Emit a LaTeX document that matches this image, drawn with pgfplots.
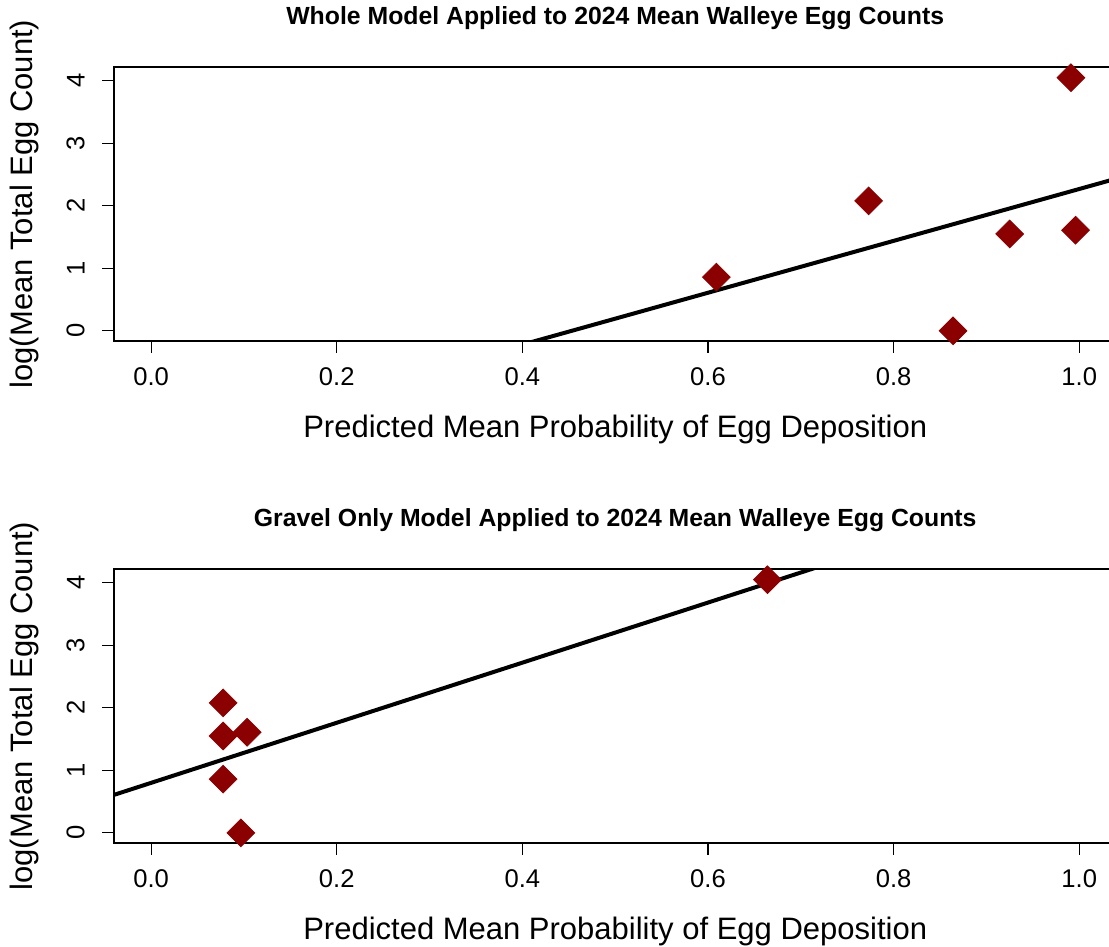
\documentclass[border=0pt]{standalone}
\usepackage{pgfplots}
\pgfplotsset{compat=1.18}
\usepackage{fontspec}
\setmainfont{Liberation Sans}
\definecolor{darkred}{HTML}{8B0000}
\pgfplotsset{
  myaxis/.style={
    scale only axis,
    width=501.2pt, height=137pt,
    xmin=-0.04, xmax=1.04,
    ymin=-0.162, ymax=4.222,
    xtick={0,0.2,0.4,0.6,0.8,1.0},
    ytick={0,1,2,3,4},
    tick align=outside,
    major tick length=6pt,
    tick style={black, line width=0.6pt},
    axis line style={black, line width=0.6pt},
    xtick pos=bottom, ytick pos=left,
    /pgf/number format/assume math mode=true,
    xticklabel={\pgfmathprintnumber[fixed, fixed zerofill, precision=1]{\tick}},
    yticklabel={\pgfmathprintnumber[fixed, precision=0]{\tick}},
    tick label style={font=\fontsize{12.8}{14}\selectfont},
    xticklabel style={anchor=north, inner sep=0pt, yshift=-7pt},
    yticklabel style={xshift=-8.5pt, rotate=90, anchor=south, inner sep=0pt},
    every axis x label/.style={at={(axis description cs:0.5,0)}, anchor=base, yshift=-48.5pt, font=\fontsize{15.5}{18}\selectfont},
    every axis y label/.style={at={(axis description cs:0,0.5)}, xshift=-40.5pt, rotate=90, anchor=base, font=\fontsize{15.5}{18}\selectfont},
    xlabel={Predicted Mean Probability of Egg Deposition},
    ylabel={log(Mean Total Egg Count)},
    every axis title/.style={font=\bfseries\fontsize{12.4}{14}\selectfont, at={(axis description cs:0.5,1)}, anchor=base, yshift=21pt},
  }
}
\begin{document}
\begin{tikzpicture}
\path[use as bounding box] (0,0) rectangle (554.5pt,473.5pt);
\clip (0,0) rectangle (554.5pt,473.5pt);
\begin{axis}[myaxis, at={(57pt,303pt)}, anchor=south west,
  title={Whole Model Applied to 2024 Mean Walleye Egg Counts}]
\addplot[black, line width=2pt] coordinates {(-0.04,-2.046) (1.04,2.436)};
\addplot[only marks, mark=square*, mark size=4.9pt, color=darkred,
  mark options={rotate=45, draw=none, fill=darkred}] coordinates {
  (0.609,0.86) (0.773,2.08) (0.925,1.55) (0.996,1.61) (0.991,4.05) (0.864,0.0)
};
\end{axis}
\begin{axis}[myaxis, at={(57pt,52pt)}, anchor=south west,
  title={Gravel Only Model Applied to 2024 Mean Walleye Egg Counts}]
\addplot[black, line width=2pt] coordinates {(-0.04,0.608) (1.04,5.80)};
\addplot[only marks, mark=square*, mark size=4.9pt, color=darkred,
  mark options={rotate=45, draw=none, fill=darkred}] coordinates {
  (0.0776,0.86) (0.0776,2.08) (0.0776,1.55) (0.1034,1.61) (0.664,4.05) (0.0967,0.0)
};
\end{axis}
\end{tikzpicture}
\end{document}
